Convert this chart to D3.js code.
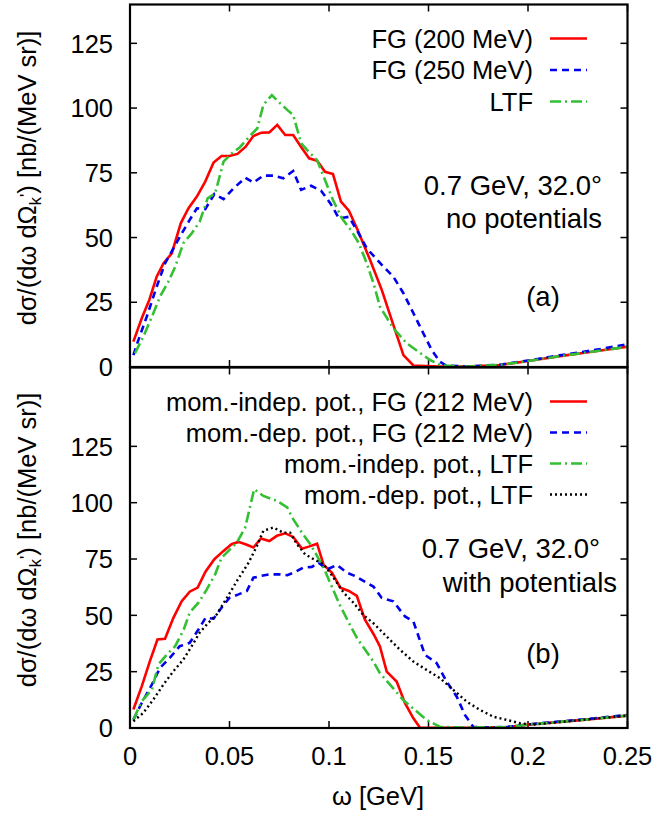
<!DOCTYPE html>
<html><head><meta charset="utf-8">
<script src="https://cdn.jsdelivr.net/npm/d3@7"></script>
<style>
body{margin:0;background:#fff;}
text{font-family:"Liberation Sans",Arial,Helvetica,sans-serif;}
</style></head>
<body><svg id="chart" width="654" height="815"></svg>
<script>
// ---------- data (omega in GeV, cross section in nb/(MeV sr)) ----------
const xTicks = [0, 0.05, 0.1, 0.15, 0.2, 0.25];
const xTickLabels = ["0", "0.05", "0.1", "0.15", "0.2", "0.25"];
const yTicks = [0, 25, 50, 75, 100, 125];
const yTickLabels = ["0", "25", "50", "75", "100", "125"];

// panel (a): no potentials
const fg200 = [[0.0017,9.8],[0.0059,18.8],[0.0097,25.9],[0.0134,34.9],[0.0168,40],[0.021,43.9],[0.0255,55.5],[0.0294,61.3],[0.0336,65.8],[0.0378,71.6],[0.042,79],[0.046,81.5],[0.05,81.5],[0.054,82.3],[0.058,85],[0.062,89.2],[0.066,90.5],[0.07,90.6],[0.074,93.5],[0.078,89.6],[0.082,89.6],[0.086,85],[0.09,80.6],[0.094,79.7],[0.098,75.4],[0.102,74.5],[0.106,63.9],[0.11,60.4],[0.1144,52.9],[0.1206,41.4],[0.1265,29.8],[0.1315,18.2],[0.1374,4.6],[0.1424,0.6],[0.155,0.2],[0.17,0.2],[0.186,0.8],[0.2,2.3],[0.216,4.2],[0.233,6.0],[0.25,7.8]];
const fg250 = [[0.0017,4.6],[0.0042,10.4],[0.0084,19.4],[0.0134,31],[0.0176,40],[0.0218,45.8],[0.026,51.6],[0.03,56.8],[0.0336,61.3],[0.0378,61],[0.0424,66.8],[0.047,64.8],[0.052,69],[0.058,73.1],[0.062,71.2],[0.067,73.9],[0.072,73.9],[0.077,72.9],[0.082,75.7],[0.086,68.4],[0.091,70],[0.096,68.1],[0.1007,63.2],[0.105,57.4],[0.11,58],[0.114,52.9],[0.119,45.8],[0.1273,38.8],[0.1323,34.9],[0.1374,28.5],[0.1424,20.8],[0.1474,13],[0.1516,6.6],[0.1558,2],[0.159,0.5],[0.17,0.2],[0.186,0.9],[0.2,2.5],[0.216,4.5],[0.233,6.5],[0.25,8.8]];
const ltfA = [[0.0025,5.3],[0.0067,11.7],[0.011,19.4],[0.0151,27.2],[0.0193,33],[0.0227,38.7],[0.0268,47.8],[0.031,51.6],[0.035,56.1],[0.039,65.1],[0.0428,67.1],[0.047,79.3],[0.051,82.5],[0.055,84.7],[0.06,89],[0.064,92.2],[0.067,101.2],[0.0713,105],[0.0755,101.8],[0.079,99.3],[0.082,97.3],[0.086,86.4],[0.0906,82.5],[0.094,79.9],[0.098,72.2],[0.102,64.5],[0.1065,57.4],[0.111,52.9],[0.115,47.8],[0.119,40],[0.1225,32],[0.1256,23.3],[0.1323,15],[0.139,9.2],[0.1449,5.9],[0.1508,2.7],[0.1566,0.6],[0.17,0.2],[0.186,0.8],[0.2,2.3],[0.216,4.2],[0.233,6.0],[0.25,7.8]];

// panel (b): with potentials
const indepFG = [[0.0017,8.2],[0.0059,18.5],[0.01,29.7],[0.0138,39.3],[0.0176,39.6],[0.0218,48.9],[0.026,56.3],[0.03,60.5],[0.034,62.3],[0.038,69.5],[0.0424,74.9],[0.047,78.6],[0.051,81.6],[0.0545,82.6],[0.0587,81.3],[0.062,80.1],[0.0658,84.1],[0.07,83],[0.0738,85.3],[0.078,86.4],[0.082,84.8],[0.0864,79.6],[0.0898,80.5],[0.094,81.8],[0.0973,72.4],[0.1015,68.9],[0.1057,62.3],[0.11,60.8],[0.114,58.6],[0.118,48.2],[0.1225,41.5],[0.1256,36.2],[0.129,25],[0.134,20.6],[0.1382,11],[0.1424,4.3],[0.1457,0.2],[0.17,0.1],[0.19,0.4],[0.2,1.5],[0.225,3.4],[0.25,5.5]];
const depFG = [[0.0017,3.7],[0.0059,11.1],[0.011,19.3],[0.0151,26.7],[0.02,31.1],[0.025,36.3],[0.03,37.8],[0.0344,43.7],[0.038,48.9],[0.042,48.5],[0.046,53.4],[0.05,57.8],[0.0545,59.3],[0.0587,60.8],[0.062,66.7],[0.066,67.5],[0.07,68.2],[0.0747,68.2],[0.079,67.8],[0.083,69.2],[0.087,71.2],[0.0914,71.5],[0.0948,73.4],[0.099,70.4],[0.104,72.4],[0.109,68.9],[0.113,67.5],[0.119,64.5],[0.1223,62.8],[0.1265,57.7],[0.1323,56.2],[0.1382,49.5],[0.1424,47.3],[0.1482,32.5],[0.1541,28.8],[0.1591,20.6],[0.1642,13.9],[0.1683,5.8],[0.1725,0.5],[0.18,0.2],[0.19,0.5],[0.2,1.6],[0.225,3.6],[0.25,5.8]];
const indepLTF = [[0.0017,3.7],[0.0059,11.9],[0.011,17],[0.0143,28.2],[0.0185,32.6],[0.0227,36.3],[0.027,43.7],[0.03,51.2],[0.0344,55.6],[0.0386,61.5],[0.0428,68.2],[0.046,75.6],[0.0495,78.6],[0.0537,82.3],[0.0579,89],[0.0624,106],[0.067,103],[0.0738,100.8],[0.079,97.9],[0.082,92.7],[0.0864,86.7],[0.0906,81.6],[0.094,76.4],[0.098,69.7],[0.102,61.5],[0.1057,54.1],[0.11,46.7],[0.114,40],[0.118,35],[0.1223,29.5],[0.1256,24.3],[0.1323,17.6],[0.1373,12.4],[0.1432,8],[0.149,3.6],[0.1558,0.5],[0.17,0.2],[0.19,0.4],[0.2,1.5],[0.225,3.4],[0.25,5.5]];
const depLTF = [[0.0017,3],[0.0067,6.7],[0.0117,12.6],[0.0168,19.3],[0.0218,25.2],[0.0268,30.4],[0.031,36.3],[0.035,42.3],[0.0394,46.7],[0.0436,50.4],[0.0487,57.8],[0.0537,65.2],[0.0596,73.4],[0.0638,80.8],[0.067,87.5],[0.072,89],[0.077,86.7],[0.0805,86.7],[0.0839,81.6],[0.088,77.1],[0.0923,74.9],[0.0973,72.7],[0.1023,66.7],[0.1074,60],[0.1124,55.5],[0.1174,50],[0.1223,46.5],[0.129,40.6],[0.1357,34.7],[0.1424,29.5],[0.149,25.8],[0.1558,22.1],[0.1625,16.9],[0.1692,11.7],[0.1759,8],[0.1826,5],[0.1893,3.6],[0.196,2.1],[0.2027,1.5],[0.225,3.4],[0.25,5.5]];

const legendA = ["FG (200 MeV)", "FG (250 MeV)", "LTF"];
const legendB = ["mom.-indep. pot., FG (212 MeV)", "mom.-dep. pot., FG (212 MeV)", "mom.-indep. pot., LTF", "mom.-dep. pot., LTF"];

// ---------- styles ----------
const RED = "#ff0000", BLUE = "#0000ee", GREEN = "#33c033", BLACK = "#000000";
const styleRed = {color: RED, dash: null, w: 2.6};
const styleBlue = {color: BLUE, dash: "7,5", w: 2.6};
const styleGreen = {color: GREEN, dash: "11,4,2,4", w: 2.6};
const styleBlack = {color: BLACK, dash: "2,3", w: 2.4};

const svg = d3.select("#chart");
const FS = 25.5;      // ticks, legend, axis titles
const FS_NOTE = 27.5; // annotations inside the panels
const left = 130, right = 627.5;
const x = d3.scaleLinear().domain([0, 0.25]).range([left, right]);

function panel(id, yTop, yBot, ymax, series, legendTexts, legendY, notes, tag, showX, labelCenter) {
  const y = d3.scaleLinear().domain([0, ymax]).range([yBot, yTop]);
  const g = svg.append("g");
  const clipId = "clip" + id;
  g.append("clipPath").attr("id", clipId).append("rect")
    .attr("x", left).attr("y", yTop).attr("width", right - left).attr("height", yBot - yTop);

  // ticks (inward, mirrored)
  const tl = 7;
  const tg = g.append("g").attr("stroke", "#000").attr("stroke-width", 1.5);
  xTicks.forEach(t => {
    tg.append("line").attr("x1", x(t)).attr("x2", x(t)).attr("y1", yBot).attr("y2", yBot - tl);
    tg.append("line").attr("x1", x(t)).attr("x2", x(t)).attr("y1", yTop).attr("y2", yTop + tl);
  });
  yTicks.forEach(t => {
    tg.append("line").attr("x1", left).attr("x2", left + tl).attr("y1", y(t)).attr("y2", y(t));
    tg.append("line").attr("x1", right).attr("x2", right - tl).attr("y1", y(t)).attr("y2", y(t));
  });
  // y tick labels
  yTicks.forEach((t, i) => {
    g.append("text").attr("x", 113).attr("y", y(t)).attr("dy", "0.36em")
      .attr("text-anchor", "end").attr("font-size", FS).text(yTickLabels[i]);
  });
  if (showX) {
    xTicks.forEach((t, i) => {
      g.append("text").attr("x", x(t)).attr("y", yBot + 37)
        .attr("text-anchor", "middle").attr("font-size", FS).text(xTickLabels[i]);
    });
  }

  // curves
  const line = d3.line().x(d => x(d[0])).y(d => y(d[1]));
  const cg = g.append("g").attr("clip-path", `url(#${clipId})`);
  series.forEach(s => {
    cg.append("path").datum(s.data).attr("d", line).attr("fill", "none")
      .attr("stroke", s.st.color).attr("stroke-width", s.st.w)
      .attr("stroke-dasharray", s.st.dash).attr("stroke-linejoin", "miter");
  });

  // legend
  legendTexts.forEach((t, i) => {
    const ly = legendY[i];
    g.append("text").attr("x", 533).attr("y", ly).attr("dy", "0.36em")
      .attr("text-anchor", "end").attr("font-size", FS).text(t);
    g.append("line").attr("x1", 550).attr("x2", 587).attr("y1", ly).attr("y2", ly)
      .attr("stroke", series[i].st.color).attr("stroke-width", series[i].st.w)
      .attr("stroke-dasharray", series[i].st.dash);
  });
  // annotation
  notes.forEach(n => {
    g.append("text").attr("x", n.x).attr("y", n.y).attr("text-anchor", "end")
      .attr("font-size", FS_NOTE).text(n.t);
  });
  g.append("text").attr("x", 543).attr("y", tag.y).attr("text-anchor", "middle")
    .attr("font-size", FS_NOTE).text(tag.t);

  // frame
  g.append("rect").attr("x", left).attr("y", yTop).attr("width", right - left).attr("height", yBot - yTop)
    .attr("fill", "none").attr("stroke", "#000").attr("stroke-width", 2.2);

  // y label
  const lab = g.append("text").attr("transform", `translate(36,${labelCenter}) rotate(-90)`)
    .attr("text-anchor", "middle").attr("font-size", FS);
  lab.append("tspan").text("dσ/(dω dΩ");
  lab.append("tspan").attr("font-size", 17).attr("dy", 5).text("k");
  lab.append("tspan").attr("font-size", 17).attr("dy", -9).text("'");
  lab.append("tspan").attr("dy", 4).text(") [nb/(MeV sr)]");
}

panel("a", 4.5, 367, 140,
  [{data: fg200, st: styleRed}, {data: fg250, st: styleBlue}, {data: ltfA, st: styleGreen}],
  legendA, [38.5, 70, 101.5],
  [{x: 602, y: 195, t: "0.7 GeV, 32.0°"}, {x: 602, y: 228, t: "no potentials"}],
  {t: "(a)", y: 306}, false, 178);

panel("b", 367.5, 728, 160,
  [{data: indepFG, st: styleRed}, {data: depFG, st: styleBlue}, {data: indepLTF, st: styleGreen}, {data: depLTF, st: styleBlack}],
  legendB, [401.5, 432.5, 463.5, 494.5],
  [{x: 600, y: 558, t: "0.7 GeV, 32.0°"}, {x: 617, y: 592, t: "with potentials"}],
  {t: "(b)", y: 663}, true, 540);

// x axis title
const xt = svg.append("text").attr("x", 378).attr("y", 805).attr("text-anchor", "middle").attr("font-size", FS);
xt.text("ω [GeV]");
</script>
</body></html>
